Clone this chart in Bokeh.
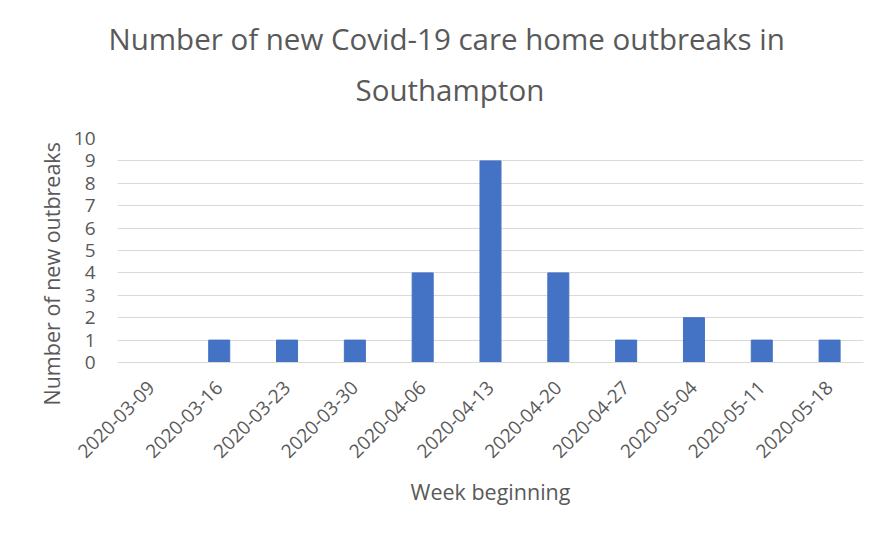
import math
from bokeh.plotting import figure
from bokeh.models import ColumnDataSource, FixedTicker, Range1d, Title
from bokeh.embed import file_html
from bokeh.resources import INLINE

weeks = ["2020-03-09", "2020-03-16", "2020-03-23", "2020-03-30", "2020-04-06",
         "2020-04-13", "2020-04-20", "2020-04-27", "2020-05-04", "2020-05-11",
         "2020-05-18"]
outbreaks = [0, 1, 1, 1, 4, 9, 4, 1, 2, 1, 1]
y_ticks = list(range(0, 11))

title_line1 = "Number of new Covid-19 care home outbreaks in"
title_line2 = "Southampton"
x_title = "Week beginning"
y_title = "Number of new outbreaks"

FONT = "Open Sans"
TXT = "#595959"

src = ColumnDataSource(dict(week=weeks, n=outbreaks))

p = figure(x_range=weeks, y_range=Range1d(0, 10), width=870, height=525,
           output_backend="svg", toolbar_location=None,
           min_border_left=117, min_border_right=7, min_border_top=138,
           min_border_bottom=163)
p.vbar(x="week", top="n", width=0.31, source=src, color="#4472C4")

p.outline_line_color = None
p.background_fill_color = "white"
p.border_fill_color = "white"

p.xgrid.grid_line_color = None
p.ygrid.grid_line_color = "#D9D9D9"
p.ygrid.grid_line_width = 1

p.yaxis.ticker = FixedTicker(ticks=y_ticks)
p.yaxis.axis_line_color = None
p.yaxis.major_tick_line_color = None
p.yaxis.minor_tick_line_color = None
p.yaxis.major_label_standoff = 16
p.yaxis.major_label_text_font = FONT
p.yaxis.major_label_text_font_size = "19px"
p.yaxis.major_label_text_color = TXT

p.xaxis.axis_line_color = "#D9D9D9"
p.xaxis.major_tick_line_color = None
p.xaxis.minor_tick_line_color = None
p.xaxis.major_label_orientation = math.pi / 4
p.xaxis.major_label_standoff = 16
p.xaxis.major_label_text_font = FONT
p.xaxis.major_label_text_font_size = "19px"
p.xaxis.major_label_text_color = TXT
p.xaxis.axis_label = x_title
p.xaxis.axis_label_standoff = 10
p.xaxis.axis_label_text_font = FONT
p.xaxis.axis_label_text_font_size = "21.5px"
p.xaxis.axis_label_text_font_style = "normal"
p.xaxis.axis_label_text_color = TXT

p.add_layout(Title(text=y_title, align="left", offset=-43, standoff=9,
                   text_font=FONT, text_font_size="21.5px", text_color=TXT,
                   text_font_style="normal"), "left")

p.add_layout(Title(text=title_line2, align="left", offset=238, standoff=57,
                   text_font=FONT, text_font_size="29.5px", text_color=TXT,
                   text_font_style="normal"), "above")
p.add_layout(Title(text=title_line1, align="left", offset=-9, standoff=-40,
                   text_font=FONT, text_font_size="29.5px", text_color=TXT,
                   text_font_style="normal"), "above")

open("out.html", "w").write(file_html(p, INLINE))
